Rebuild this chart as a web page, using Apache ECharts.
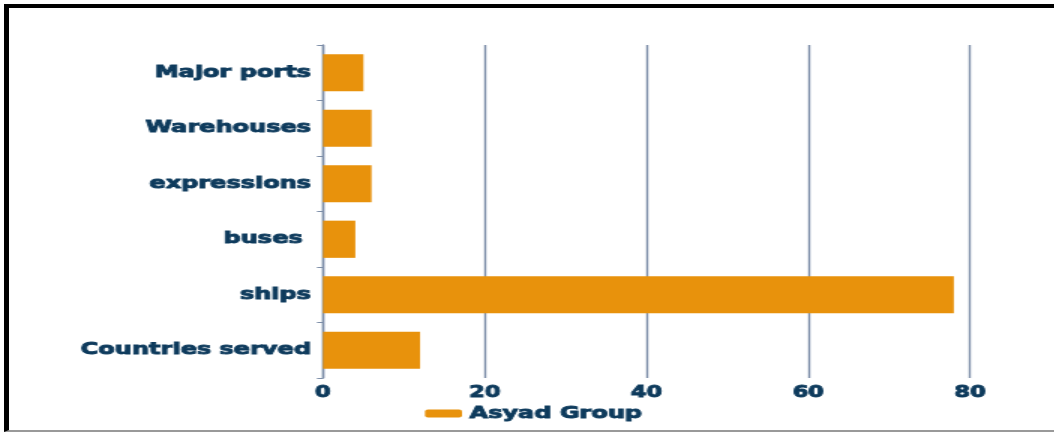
<!DOCTYPE html>
<html>
<head>
<meta charset="utf-8">
<script src="https://cdn.jsdelivr.net/npm/echarts@6/dist/echarts.min.js"></script>
<style>
  html, body { margin: 0; padding: 0; background: #fff; overflow: hidden; }
  /* the source picture is stretched sideways, so draw narrow and widen it */
  #chart {
    position: absolute; left: 0; top: 0; width: 703px; height: 432px;
    transform: scaleX(1.5); transform-origin: 0 0;
  }
  #frame {
    position: absolute; left: 4px; top: 4px; width: 1050px; height: 422px;
    border-top: 4px solid #000; border-left: 5px solid #000; border-bottom: 2px solid #999;
    pointer-events: none;
  }
</style>
</head>
<body>
<div id="chart"></div>
<div id="frame"></div>
<script>
// bottom to top, as echarts draws category axis upward
const categories = ['Countries served', 'ships', 'buses ', 'expressions', 'Warehouses', 'Major ports']
const asyadValues = [12, 78, 4, 6, 6, 5]
const xTicks = [0, 20, 40, 60, 80]

const textColor = '#0d3a5c'
const lineColor = '#7d8ea8'
const font = 'DejaVu Sans'
const sx = 1.5

const chart = echarts.init(document.getElementById('chart'))

chart.setOption({
  animation: false,
  grid: {
    left: 323 / sx,
    right: 703 - 970 / sx,
    top: 45,
    bottom: 54
  },
  legend: {
    data: ['Asyad Group'],
    left: 425 / sx,
    top: 405,
    padding: 0,
    itemWidth: 37 / sx,
    itemHeight: 8,
    itemGap: 5,
    icon: 'roundRect',
    textStyle: {
      color: textColor,
      fontFamily: font,
      fontWeight: 'bold',
      fontSize: 16,
      textBorderColor: textColor,
      textBorderWidth: 0.9
    }
  },
  xAxis: {
    type: 'value',
    min: xTicks[0],
    max: xTicks[xTicks.length - 1],
    interval: 20,
    axisLine: { show: false },
    axisTick: { show: false },
    splitLine: {
      show: true,
      lineStyle: { color: lineColor, width: 1.4 }
    },
    axisLabel: {
      margin: 8,
      color: textColor,
      fontFamily: font,
      fontWeight: 'bold',
      fontSize: 15,
      textBorderColor: textColor,
      textBorderWidth: 0.9
    }
  },
  yAxis: {
    type: 'category',
    data: categories,
    axisLine: {
      show: true,
      lineStyle: { color: lineColor, width: 1.4 }
    },
    axisTick: {
      show: true,
      length: 4,
      lineStyle: { color: lineColor, width: 1 }
    },
    axisLabel: {
      margin: 8,
      color: textColor,
      fontFamily: font,
      fontWeight: 'bold',
      fontSize: 16,
      textBorderColor: textColor,
      textBorderWidth: 0.9
    }
  },
  series: [
    {
      name: 'Asyad Group',
      type: 'bar',
      data: asyadValues,
      barCategoryGap: '33%',
      itemStyle: { color: '#e8920c' }
    }
  ]
})
</script>
</body>
</html>
